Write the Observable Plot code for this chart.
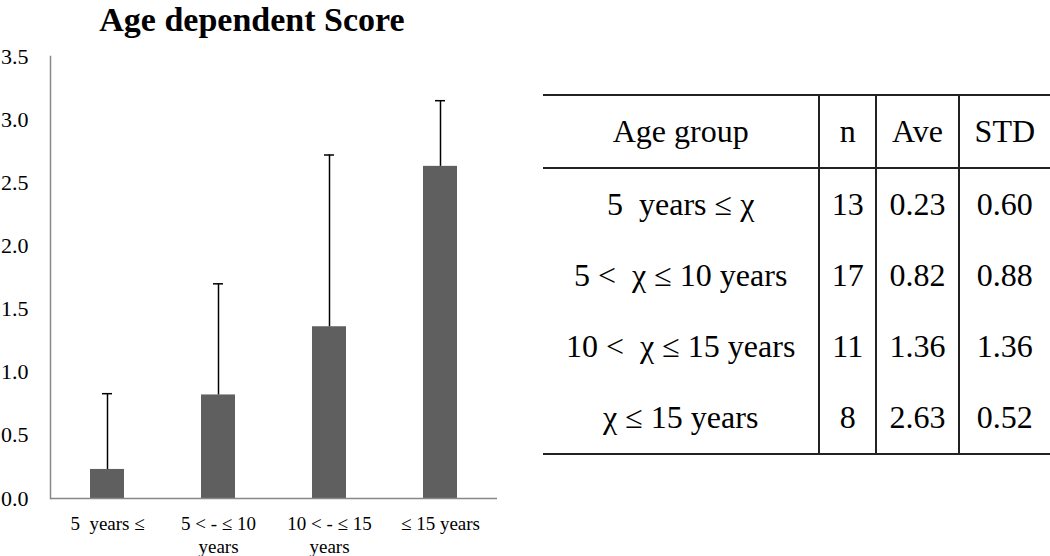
<!DOCTYPE html>
<html><head><meta charset="utf-8">
<script src="https://cdn.jsdelivr.net/npm/d3@7"></script>
<script src="https://cdn.jsdelivr.net/npm/@observablehq/plot@0.6"></script>
<style>
html,body{margin:0;padding:0;background:#fff;}
body{width:1050px;height:556px;position:relative;overflow:hidden;font-family:"Liberation Serif","Times New Roman",serif;}
#title{position:absolute;left:0;width:504px;top:1px;text-align:center;font-weight:bold;font-size:34px;line-height:38px;color:#000;font-family:"Liberation Serif","Times New Roman",serif;}
#chart{position:absolute;left:0;top:40px;}
#tbl{position:absolute;left:543px;top:94px;border-collapse:collapse;color:#000;}
#tbl td,#tbl th{font-family:"Liberation Serif","Times New Roman",serif;font-size:32px;font-weight:normal;text-align:center;padding:0;white-space:pre;}
#tbl tr.h th{height:71px;border-top:2px solid #222;border-bottom:2px solid #222;}
#tbl tr.r td{height:71px;}
#tbl tr.last td{border-bottom:2px solid #222;}
#tbl .v{border-left:2px solid #222;}
</style></head>
<body>
<div id="title">Age dependent Score</div>
<div id="chart"></div>
<table id="tbl"></table>
<script>
const groups = ["5  years ≤", "5 < - ≤ 10\nyears", "10 < - ≤ 15\nyears", "≤ 15 years"];
const tableGroups = ["5  years ≤ χ", "5 <  χ ≤ 10 years", "10 <  χ ≤ 15 years", "χ ≤ 15 years"];
const nValues = [13, 17, 11, 8];
const aveValues = [0.23, 0.82, 1.36, 2.63];
const stdValues = [0.60, 0.88, 1.36, 0.52];
const yTicks = [0, 0.5, 1.0, 1.5, 2.0, 2.5, 3.0, 3.5];
const headers = ["Age group", "n", "Ave", "STD"];

const data = groups.map((g, i) => ({group: g, ave: aveValues[i], top: aveValues[i] + stdValues[i]}));

const chart = Plot.plot({
  width: 510, height: 516,
  marginLeft: 50, marginRight: 13, marginTop: 16, marginBottom: 58,
  style: {fontFamily: "Liberation Serif, Times New Roman, serif", fontSize: "20px", color: "#000", background: "transparent"},
  x: {domain: groups, paddingInner: 0.69, paddingOuter: 0.345, label: null},
  y: {domain: [0, 3.5], label: null},
  marks: [
    Plot.axisY({ticks: yTicks, tickFormat: d3.format(".1f"), tickSize: 0, tickPadding: 22, fontSize: 22, label: null}),
    Plot.axisX({tickSize: 0, tickPadding: 14, fontSize: 19, lineHeight: 1.26, label: null}),
    Plot.barY(data, {x: "group", y: "ave", fill: "#5f5f5f"}),
    Plot.ruleX(data, {x: "group", y1: "ave", y2: "top", stroke: "#000", strokeWidth: 1.5}),
    Plot.tickY(data, {x: "group", y: "top", stroke: "#000", strokeWidth: 1.5, insetLeft: 12, insetRight: 12}),
    Plot.ruleY([0], {stroke: "#888", strokeWidth: 1.5}),
    Plot.frame({anchor: "left", stroke: "#888", strokeWidth: 1.5})
  ]
});
document.getElementById("chart").appendChild(chart);

// table
const tbl = document.getElementById("tbl");
const widths = [278, 56, 82, 92];
let html = "<tr class='h'>" + headers.map((h, i) => `<th class='${i ? "v" : ""}' style='width:${widths[i]}px'>${h}</th>`).join("") + "</tr>";
tableGroups.forEach((g, i) => {
  const cls = i === tableGroups.length - 1 ? "r last" : "r";
  html += `<tr class='${cls}'><td>${g}</td><td class='v'>${nValues[i]}</td><td class='v'>${aveValues[i].toFixed(2)}</td><td class='v'>${stdValues[i].toFixed(2)}</td></tr>`;
});
tbl.innerHTML = html;
</script>
</body></html>
